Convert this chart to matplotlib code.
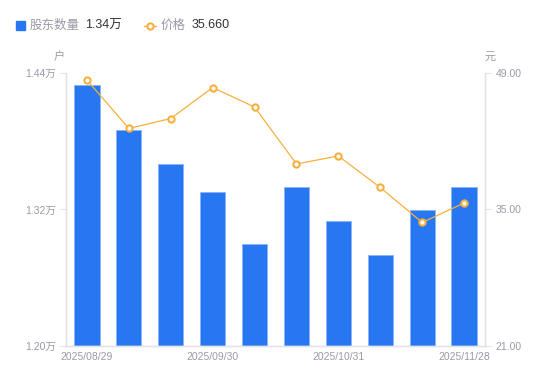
import numpy as np
import matplotlib
matplotlib.use('Agg')
import matplotlib.pyplot as plt
from matplotlib.lines import Line2D

plt.rcParams['font.family'] = ['Liberation Sans', 'Noto Sans CJK SC', 'DejaVu Sans']

dates = ['2025/08/29', '', '', '2025/09/30', '', '', '2025/10/31', '', '', '2025/11/28']
holders = [1.4295, 1.3895, 1.3596, 1.3354, 1.2901, 1.3398, 1.3099, 1.2800, 1.3196, 1.3398]  # 万户
price = [48.28, 43.31, 44.33, 47.51, 45.51, 39.67, 40.49, 37.26, 33.67, 35.66]  # 元

blue = '#2877f2'
orange = '#f7b03d'
grey_txt = '#9a9aa8'
axis_c = '#e3e3e8'

fig = plt.figure(figsize=(5.5, 3.81), dpi=100)
ax = fig.add_axes([0.12, 0.0919, 0.7618, 0.7165])
x = np.arange(len(holders))

ax.bar(x, holders, width=0.6, color=blue, edgecolor='#8ab4f8', linewidth=0.6, zorder=2)
ax.set_ylim(1.20, 1.44)
ax.set_xlim(-0.5, len(holders) - 0.5)
ax.set_yticks([1.20, 1.32, 1.44])
ax.set_yticklabels(['1.20万', '1.32万', '1.44万'])
ax.set_xticks(x)
ax.set_xticklabels(dates)

ax2 = ax.twinx()
ax2.plot(x, price, color=orange, lw=0.9, marker='o', ms=4.5, mfc='white',
         mec=orange, mew=1.5, zorder=3)
ax2.set_ylim(21, 49)
ax2.set_yticks([21, 35, 49])
ax2.set_yticklabels(['21.00', '35.00', '49.00'])

for a in (ax, ax2):
    for s in a.spines.values():
        s.set_color(axis_c)
        s.set_linewidth(1)
    a.spines['top'].set_visible(False)
    a.tick_params(colors=axis_c, labelcolor=grey_txt, labelsize=7.5, length=4, width=0.8)
ax.tick_params(axis='x', length=0, pad=4)
ax2.tick_params(axis='x', length=0)

fig.text(59 / 550, 1 - 57 / 381, '户', color=grey_txt, fontsize=8, ha='center', va='center')
fig.text(490 / 550, 1 - 57 / 381, '元', color=grey_txt, fontsize=8, ha='center', va='center')

# top legend
ly = 1 - 25.5 / 381
fig.patches.append(plt.Rectangle((16 / 550, ly - 4.5 / 381), 9 / 550, 9 / 381,
                                 transform=fig.transFigure, color=blue, figure=fig))
fig.text(30 / 550, ly, '股东数量', color=grey_txt, fontsize=9, va='center')
fig.text(85 / 550, ly, '1.34万', color='#333333', fontsize=9, va='center')
fig.lines.append(Line2D([144 / 550, 156 / 550], [ly, ly],
                        transform=fig.transFigure, color=orange, lw=1))
fig.lines.append(Line2D([150 / 550], [ly], transform=fig.transFigure,
                        color=orange, marker='o', ms=4.5, mfc='white', mec=orange, mew=1.5))
fig.text(161 / 550, ly, '价格', color=grey_txt, fontsize=9, va='center')
fig.text(192 / 550, ly, '35.660', color='#333333', fontsize=9, va='center')

fig.savefig('out.png', dpi=100)
